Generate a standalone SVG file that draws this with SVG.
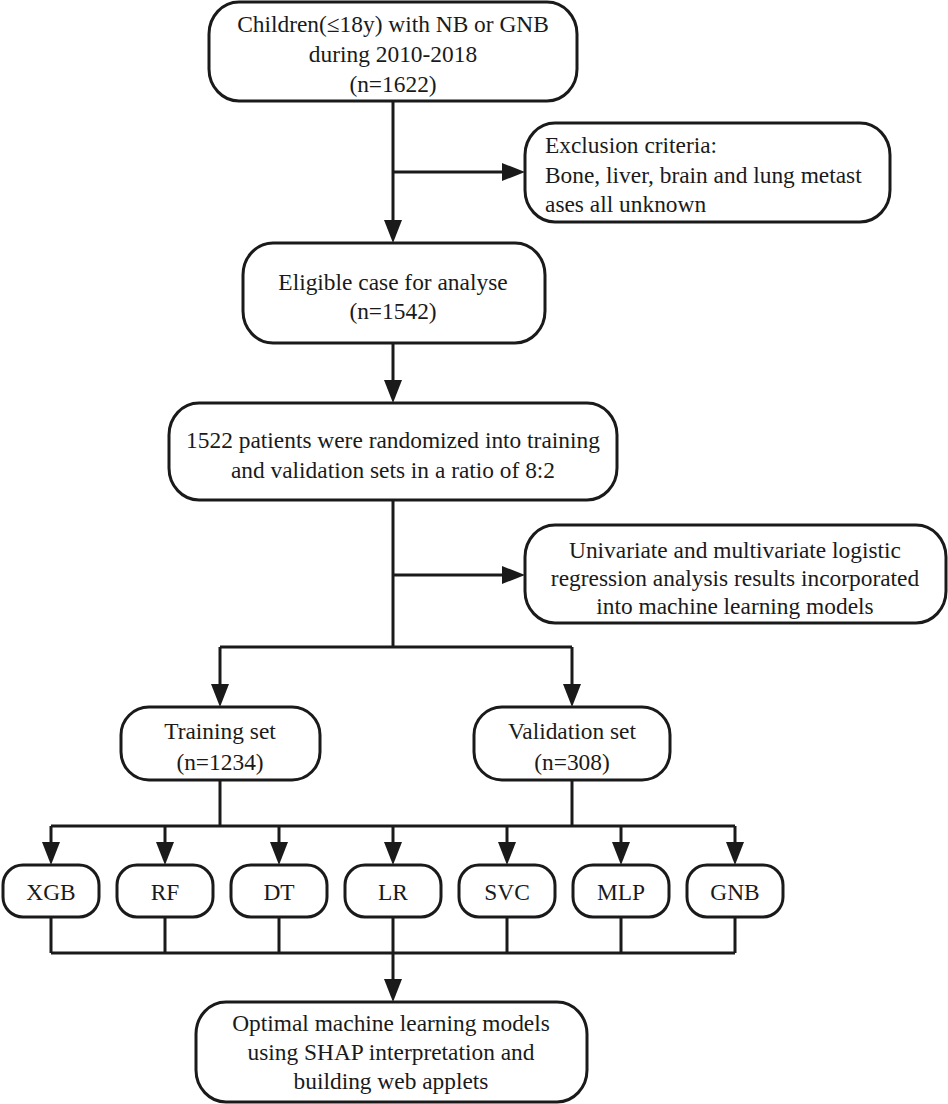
<svg xmlns="http://www.w3.org/2000/svg" width="948" height="1104" viewBox="0 0 948 1104" font-family="'Liberation Serif', 'Times New Roman', serif">
<style>
.box{fill:#fff;stroke:#1a1a1a;stroke-width:3}
.t{font-family:'Liberation Serif', 'Times New Roman', serif;font-size:23.4px;fill:#1a1a1a;text-anchor:middle}
.tl{text-anchor:start}
.c{fill:none;stroke:#1a1a1a;stroke-width:3}
</style>
<defs>
<marker id="ah" viewBox="0 0 23 18" refX="18" refY="9" markerWidth="23" markerHeight="18" markerUnits="userSpaceOnUse" orient="auto">
<path d="M0,0 L23,9 L0,18 Z" fill="#1a1a1a"/>
</marker>
</defs>
<rect width="948" height="1104" fill="#fff"/>
<g id="connectors">
<path class="c" d="M393,101 V238" marker-end="url(#ah)"/>
<path class="c" d="M393,172 H520" marker-end="url(#ah)"/>
<path class="c" d="M393,343 V398" marker-end="url(#ah)"/>
<path class="c" d="M393,500 V647"/>
<path class="c" d="M393,575 H520" marker-end="url(#ah)"/>
<path class="c" d="M220,647 H572"/>
<path class="c" d="M220,647 V702" marker-end="url(#ah)"/>
<path class="c" d="M572,647 V702" marker-end="url(#ah)"/>
<path class="c" d="M220,780 V826"/>
<path class="c" d="M572,780 V826"/>
<path class="c" d="M51,826 H735"/>
<path class="c" d="M51,826 V860" marker-end="url(#ah)"/>
<path class="c" d="M165,826 V860" marker-end="url(#ah)"/>
<path class="c" d="M279,826 V860" marker-end="url(#ah)"/>
<path class="c" d="M393,826 V860" marker-end="url(#ah)"/>
<path class="c" d="M507,826 V860" marker-end="url(#ah)"/>
<path class="c" d="M621,826 V860" marker-end="url(#ah)"/>
<path class="c" d="M735,826 V860" marker-end="url(#ah)"/>
<path class="c" d="M51,917 V953 M165,917 V953 M279,917 V953 M393,917 V953 M507,917 V953 M621,917 V953 M735,917 V953"/>
<path class="c" d="M51,953 H735"/>
<path class="c" d="M393,953 V997" marker-end="url(#ah)"/>
</g>
<g id="start">
<rect class="box" x="209" y="2" width="368" height="99" rx="30" ry="32"/>
<text class="t" x="393" y="32" font-family="Liberation Serif">Children(≤18y) with NB or GNB</text>
<text class="t" x="393" y="62" font-family="Liberation Serif">during 2010-2018</text>
<text class="t" x="393" y="92" font-family="Liberation Serif">(n=1622)</text>
</g>
<g id="exclusion">
<rect class="box" x="525" y="123" width="365" height="99" rx="30" ry="32"/>
<text class="t tl" x="545" y="153" font-family="Liberation Serif">Exclusion criteria:</text>
<text class="t tl" x="545" y="183" font-family="Liberation Serif">Bone, liver, brain and lung metast</text>
<text class="t tl" x="545" y="212" font-family="Liberation Serif">ases all unknown</text>
</g>
<g id="eligible">
<rect class="box" x="243" y="243" width="302" height="100" rx="30" ry="32"/>
<text class="t" x="393" y="290" font-family="Liberation Serif">Eligible case for analyse</text>
<text class="t" x="393" y="319" font-family="Liberation Serif">(n=1542)</text>
</g>
<g id="randomized">
<rect class="box" x="169" y="403" width="448" height="97" rx="30" ry="32"/>
<text class="t" x="393" y="448" font-family="Liberation Serif">1522 patients were randomized into training</text>
<text class="t" x="393" y="478" font-family="Liberation Serif">and validation sets in a ratio of 8:2</text>
</g>
<g id="univariate">
<rect class="box" x="525" y="525" width="421" height="98" rx="30" ry="32"/>
<text class="t" x="735" y="558" font-family="Liberation Serif">Univariate and multivariate logistic</text>
<text class="t" x="735" y="586" font-family="Liberation Serif">regression analysis results incorporated</text>
<text class="t" x="735" y="614" font-family="Liberation Serif">into machine learning models</text>
</g>
<g id="training">
<rect class="box" x="121" y="707" width="199" height="73" rx="28" ry="28"/>
<text class="t" x="220" y="739" font-family="Liberation Serif">Training set</text>
<text class="t" x="220" y="770" font-family="Liberation Serif">(n=1234)</text>
</g>
<g id="validation">
<rect class="box" x="474" y="707" width="196" height="73" rx="28" ry="28"/>
<text class="t" x="572" y="739" font-family="Liberation Serif">Validation set</text>
<text class="t" x="572" y="770" font-family="Liberation Serif">(n=308)</text>
</g>
<g id="xgb"><rect class="box" x="3" y="865" width="96" height="52" rx="20" ry="20"/><text class="t" x="51" y="900" font-family="Liberation Serif">XGB</text></g>
<g id="rf"><rect class="box" x="117" y="865" width="96" height="52" rx="20" ry="20"/><text class="t" x="165" y="900" font-family="Liberation Serif">RF</text></g>
<g id="dt"><rect class="box" x="231" y="865" width="96" height="52" rx="20" ry="20"/><text class="t" x="279" y="900" font-family="Liberation Serif">DT</text></g>
<g id="lr"><rect class="box" x="345" y="865" width="96" height="52" rx="20" ry="20"/><text class="t" x="393" y="900" font-family="Liberation Serif">LR</text></g>
<g id="svc"><rect class="box" x="459" y="865" width="96" height="52" rx="20" ry="20"/><text class="t" x="507" y="900" font-family="Liberation Serif">SVC</text></g>
<g id="mlp"><rect class="box" x="573" y="865" width="96" height="52" rx="20" ry="20"/><text class="t" x="621" y="900" font-family="Liberation Serif">MLP</text></g>
<g id="gnb"><rect class="box" x="687" y="865" width="96" height="52" rx="20" ry="20"/><text class="t" x="735" y="900" font-family="Liberation Serif">GNB</text></g>
<g id="optimal">
<rect class="box" x="196" y="1002" width="391" height="100" rx="30" ry="32"/>
<text class="t" x="391" y="1031" font-family="Liberation Serif">Optimal machine learning models</text>
<text class="t" x="391" y="1060" font-family="Liberation Serif">using SHAP interpretation and</text>
<text class="t" x="391" y="1089" font-family="Liberation Serif">building web applets</text>
</g>
</svg>
